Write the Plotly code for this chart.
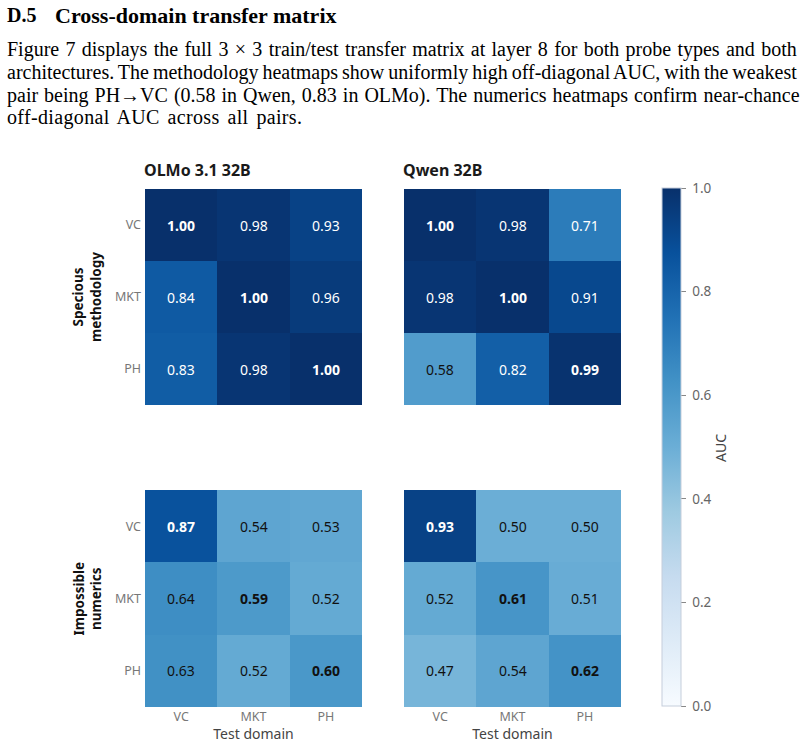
import plotly.graph_objects as go

# ---------------- data ----------------
train_domains = ["VC", "MKT", "PH"]
test_domains = ["VC", "MKT", "PH"]
model_titles = ["OLMo 3.1 32B", "Qwen 32B"]
probe_labels = ["Specious<br>methodology", "Impossible<br>numerics"]

olmo_methodology = [[1.00, 0.98, 0.93],
                    [0.84, 1.00, 0.96],
                    [0.83, 0.98, 1.00]]
qwen_methodology = [[1.00, 0.98, 0.71],
                    [0.98, 1.00, 0.91],
                    [0.58, 0.82, 0.99]]
olmo_numerics = [[0.87, 0.54, 0.53],
                 [0.64, 0.59, 0.52],
                 [0.63, 0.52, 0.60]]
qwen_numerics = [[0.93, 0.50, 0.50],
                 [0.52, 0.61, 0.51],
                 [0.47, 0.54, 0.62]]

colorbar_ticks = [0.0, 0.2, 0.4, 0.6, 0.8, 1.0]
colorbar_title = "AUC"

heading_num = "D.5"
heading_text = "Cross-domain transfer matrix"
body_lines = [
    "Figure 7 displays the full 3 × 3 train/test transfer matrix at layer 8 for both probe types and both",
    "architectures. The methodology heatmaps show uniformly high off-diagonal AUC, with the weakest",
    "pair being PH→VC (0.58 in Qwen, 0.83 in OLMo). The numerics heatmaps confirm near-chance",
    "off-diagonal AUC across all pairs.",
]

# ---------------- layout helpers ----------------
W, H = 804, 747
def px_x(x):
    return x / W
def px_y(y):
    return 1 - y / H

blues = [[0.0, "rgb(247,251,255)"], [0.125, "rgb(222,235,247)"], [0.25, "rgb(198,219,239)"],
         [0.375, "rgb(158,202,225)"], [0.5, "rgb(107,174,214)"], [0.625, "rgb(66,146,198)"],
         [0.75, "rgb(33,113,181)"], [0.875, "rgb(8,81,156)"], [1.0, "rgb(8,48,107)"]]

col_x = [(145, 362), (404, 621)]
row_y = [(189, 405), (490, 707)]
panels = [(olmo_methodology, 0, 0), (qwen_methodology, 0, 1),
          (olmo_numerics, 1, 0), (qwen_numerics, 1, 1)]

fig = go.Figure()
annotations = []
FONT = "Noto Sans"

for i, (z, r, c) in enumerate(panels):
    n = i + 1
    xa = "x" if n == 1 else f"x{n}"
    ya = "y" if n == 1 else f"y{n}"
    show = (i == 0)
    fig.add_trace(go.Heatmap(
        z=z, x=test_domains, y=train_domains, xaxis=xa, yaxis=ya,
        colorscale=blues, zmin=0, zmax=1, showscale=show,
        xgap=0, ygap=0,
        colorbar=dict(
            x=px_x(662), xanchor="left", thickness=19, thicknessmode="pixels",
            xpad=0, ypad=0,
            len=706 - 188, lenmode="pixels", y=px_y(706), yanchor="bottom",
            outlinewidth=1, outlinecolor="#c5cedb",
            ticks="outside", ticklen=5, tickcolor="#888", tickwidth=1,
            tickvals=colorbar_ticks,
            ticktext=["\u00a0" + f"{v:.1f}" for v in colorbar_ticks],
            tickfont=dict(size=13.5, color="#666", family=FONT),
        ) if show else None,
        hovertemplate="train %{y} → test %{x}: %{z:.2f}<extra></extra>",
    ))
    x0, x1 = col_x[c]
    y0, y1 = row_y[r]
    xkey = "xaxis" if n == 1 else f"xaxis{n}"
    ykey = "yaxis" if n == 1 else f"yaxis{n}"
    bottom = (r == 1)
    left = (c == 0)
    fig.update_layout(**{
        xkey: dict(domain=[px_x(x0), px_x(x1)], anchor=ya, showgrid=False, zeroline=False,
                   showline=False, ticks="", showticklabels=bottom,
                   tickfont=dict(size=12.5, color="#777", family=FONT),
                   title=dict(text="Test domain" if bottom else "", standoff=4,
                              font=dict(size=14, color="#444", family=FONT))),
        ykey: dict(domain=[px_y(y1), px_y(y0)], anchor=xa, showgrid=False, zeroline=False,
                   showline=False, ticks="", showticklabels=left, autorange="reversed",
                   ticklabelstandoff=3,
                   tickfont=dict(size=12.5, color="#777", family=FONT)),
    })
    # cell value labels
    for ri, tr in enumerate(train_domains):
        for ci, te in enumerate(test_domains):
            v = z[ri][ci]
            txt = f"{v:.2f}"
            if ri == ci:
                txt = f"<b>{txt}</b>"
            annotations.append(dict(
                x=te, y=tr, xref=xa, yref=ya, text=txt, showarrow=False,
                font=dict(size=14, family=FONT, color="white" if v > 0.68 else "#111"),
            ))

# colorbar title
annotations.append(dict(x=px_x(720), y=px_y(448), xref="paper", yref="paper",
                        xanchor="center", yanchor="middle", showarrow=False, textangle=-90,
                        text=colorbar_title, font=dict(size=14, color="#444", family=FONT)))

# model titles
for c, t in enumerate(model_titles):
    annotations.append(dict(x=px_x(col_x[c][0] - 3), y=px_y(170), xref="paper", yref="paper",
                            xanchor="left", yanchor="middle", showarrow=False,
                            text=f"<b>{t}</b>", font=dict(size=16, color="#1a1a1a", family=FONT)))
# row labels
for r, t in enumerate(probe_labels):
    yc = (row_y[r][0] + row_y[r][1]) / 2
    annotations.append(dict(x=px_x(87), y=px_y(yc), xref="paper", yref="paper",
                            xanchor="center", yanchor="middle", showarrow=False, textangle=-90,
                            text=f"<b>{t}</b>", font=dict(size=13.5, color="#111", family=FONT)))

# page text above the figure
SERIF = "Liberation Serif"
annotations.append(dict(x=px_x(5), y=px_y(15), xref="paper", yref="paper", xanchor="left",
                        yanchor="middle", showarrow=False, text=f"<b>{heading_num}</b>",
                        font=dict(size=20, color="black", family=SERIF)))
annotations.append(dict(x=px_x(53), y=px_y(15), xref="paper", yref="paper", xanchor="left",
                        yanchor="middle", showarrow=False, text=f"<b>{heading_text}</b>",
                        font=dict(size=22, color="black", family=SERIF)))
line_y = [50, 72.5, 95, 117.5]
line_style = ["word-spacing:1.3px", "word-spacing:-1.0px", "word-spacing:1.0px",
              "word-spacing:2.5px;letter-spacing:0.35px"]
for ln, yy, st in zip(body_lines, line_y, line_style):
    annotations.append(dict(x=px_x(5), y=px_y(yy), xref="paper", yref="paper", xanchor="left",
                            yanchor="middle", showarrow=False,
                            text=f'<span style="{st}">{ln}</span>',
                            font=dict(size=20, color="black", family=SERIF)))

fig.update_layout(
    width=W, height=H, margin=dict(l=0, r=0, t=0, b=0),
    paper_bgcolor="white", plot_bgcolor="white",
    font=dict(family=FONT),
    annotations=annotations, showlegend=False,
)

fig.write_html("out.html")
